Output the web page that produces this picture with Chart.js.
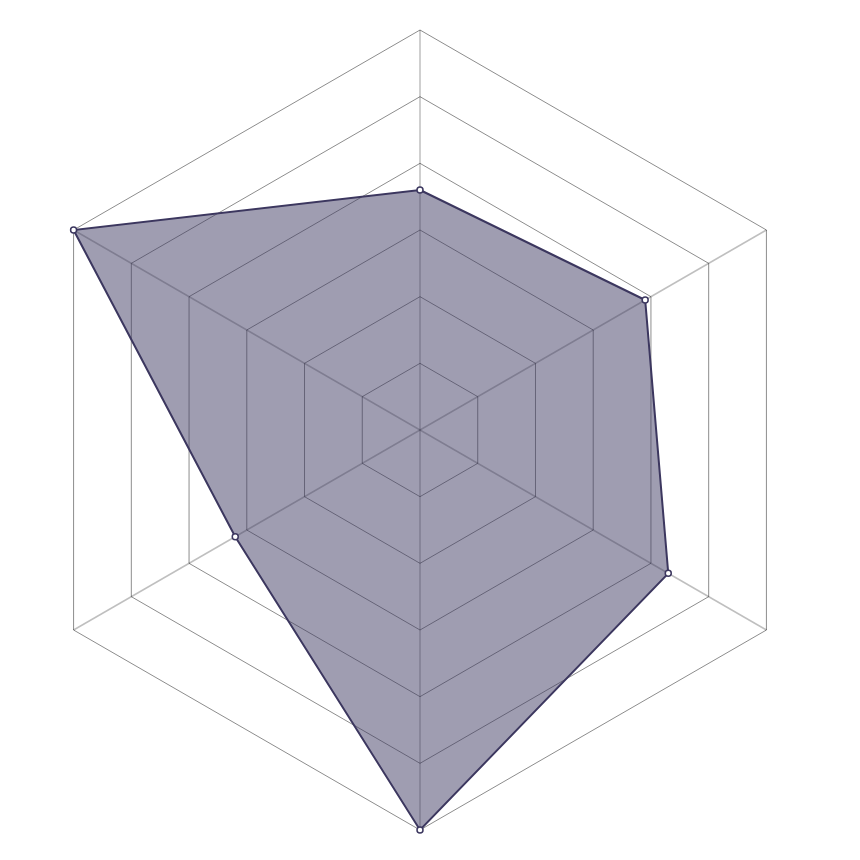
<!DOCTYPE html>
<html>
<head>
<meta charset="utf-8">
<script src="https://cdn.jsdelivr.net/npm/chart.js@4"></script>
<style>
  html, body { margin: 0; padding: 0; background: #fff; }
  #wrap { width: 860px; height: 860px; }
</style>
</head>
<body>
<div id="wrap"><canvas id="c" width="860" height="860"></canvas></div>
<script>
const categories = ['A', 'B', 'C', 'D', 'E', 'F'];
const seriesValues = [3.6, 3.9, 4.3, 6.0, 3.2, 6.0];
const scaleMin = 0;
const scaleMax = 6;
const scaleStep = 1;

new Chart(document.getElementById('c'), {
  type: 'radar',
  data: {
    labels: categories,
    datasets: [{
      data: seriesValues,
      fill: true,
      backgroundColor: 'rgba(60,55,95,0.49)',
      borderColor: '#3c375f',
      borderWidth: 2,
      pointRadius: 3,
      pointBorderWidth: 1.5,
      pointBackgroundColor: '#ffffff',
      pointBorderColor: '#3c375f'
    }]
  },
  options: {
    responsive: false,
    animation: false,
    layout: { padding: { left: 20, right: 40, top: 30, bottom: 30 } },
    plugins: { legend: { display: false }, tooltip: { enabled: false } },
    scales: {
      r: {
        min: scaleMin,
        max: scaleMax,
        ticks: { display: false, stepSize: scaleStep },
        pointLabels: { display: false },
        grid: { color: 'rgba(0,0,0,0.45)', lineWidth: 1 },
        angleLines: { color: 'rgba(0,0,0,0.25)', lineWidth: 1.5 }
      }
    }
  }
});
</script>
</body>
</html>
